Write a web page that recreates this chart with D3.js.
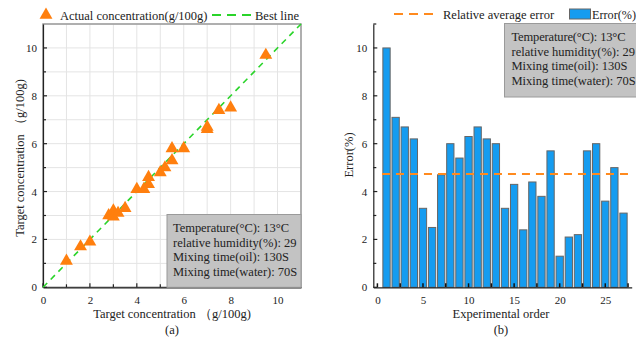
<!DOCTYPE html>
<html>
<head>
<meta charset="utf-8">
<script src="https://cdn.jsdelivr.net/npm/d3@7"></script>
<style>
  body { margin: 0; background: #fff; }
  svg { display: block; font-family: "Liberation Serif", "Times New Roman", serif; }
</style>
</head>
<body>
<svg id="chart" width="636" height="341"></svg>
<script>
// (a) target vs actual concentration
var targetConc = [1, 1.6, 2, 2.8, 3, 3, 3.2, 3.5, 4, 4.3, 4.5, 4.5, 5, 5.2, 5.5, 5.5, 6, 7, 7, 7.5, 8, 9.5];
var actualConc = [1.1, 1.7, 1.9, 3.0, 3.2, 2.95, 3.1, 3.3, 4.1, 4.1, 4.3, 4.6, 4.8, 5.0, 5.3, 5.8, 5.8, 6.6, 6.7, 7.4, 7.5, 9.7];

// (b) error per experiment
var errorPct = [10.0, 7.1, 6.7, 6.2, 3.3, 2.5, 4.7, 6.0, 5.4, 6.3, 6.7, 6.2, 6.0, 3.3, 4.3,
                2.4, 4.4, 3.8, 5.7, 1.3, 2.1, 2.2, 5.7, 6.0, 3.6, 5.0, 3.1];
var avgError = 4.73;

var infoLines = ['Temperature(°C): 13°C', 'relative humidity(%): 29',
                 'Mixing time(oil): 130S', 'Mixing time(water): 70S'];

var svg = d3.select('#chart');
var fs = 11;
var ink = '#222';

function infoBox(g, x, y, w, h, tx, ty, firstLen) {
  g.append('rect').attr('x', x).attr('y', y).attr('width', w).attr('height', h)
    .attr('fill', '#c3c3c3').attr('stroke', '#9a9a9a').attr('stroke-width', 1);
  infoLines.forEach(function(t, i) {
    var el = g.append('text').attr('x', tx).attr('y', ty + i * 14.7)
      .attr('font-size', 12.5).attr('fill', ink).text(t);
    // the degree signs come out wider in the source figure
    if (i === 0) el.attr('textLength', firstLen).attr('lengthAdjust', 'spacing');
  });
}

function styleAxis(sel) {
  sel.select('.domain').attr('stroke', ink).attr('stroke-width', 1.2);
  sel.selectAll('text').attr('font-size', fs).attr('font-family', 'Liberation Serif').attr('fill', ink);
}

// ---------- panel (a) ----------
(function() {
  var x = d3.scaleLinear().domain([0, 11]).range([43, 301]);
  var y = d3.scaleLinear().domain([0, 11]).range([287.3, 24]);
  var g = svg.append('g');

  var units = d3.range(0, 12);
  g.selectAll('line.gx').data(units).enter().append('line')
    .attr('x1', function(d) { return x(d); }).attr('x2', function(d) { return x(d); })
    .attr('y1', y(0)).attr('y2', y(11)).attr('stroke', '#e4e4e4');
  g.selectAll('line.gy').data(units).enter().append('line')
    .attr('y1', function(d) { return y(d); }).attr('y2', function(d) { return y(d); })
    .attr('x1', x(0)).attr('x2', x(11)).attr('stroke', '#e4e4e4');

  // frame
  g.append('rect').attr('x', x(0)).attr('y', y(11)).attr('width', x(11) - x(0))
    .attr('height', y(0) - y(11)).attr('fill', 'none').attr('stroke', '#999').attr('stroke-width', 1.5);

  var gx = g.append('g').attr('transform', 'translate(0,' + y(0) + ')')
    .call(d3.axisBottom(x).tickValues(d3.range(0, 11, 2)).tickSize(0).tickPadding(9));
  styleAxis(gx);
  g.selectAll('line.tx').data(d3.range(0, 11)).enter().append('line')
    .attr('x1', function(d) { return x(d); }).attr('x2', function(d) { return x(d); })
    .attr('y1', y(0)).attr('y2', function(d) { return y(0) - (d % 2 ? 3 : 4); })
    .attr('stroke', ink).attr('stroke-width', 1.2);

  var gy = g.append('g').attr('transform', 'translate(' + x(0) + ',0)')
    .call(d3.axisLeft(y).tickValues(d3.range(0, 11, 2)).tickSize(0).tickPadding(6));
  styleAxis(gy);
  g.selectAll('line.ty').data(d3.range(0, 11)).enter().append('line')
    .attr('y1', function(d) { return y(d); }).attr('y2', function(d) { return y(d); })
    .attr('x1', x(0)).attr('x2', function(d) { return x(0) + (d % 2 ? 3 : 4); })
    .attr('stroke', ink).attr('stroke-width', 1.2);

  // best line
  g.append('line').attr('x1', x(0)).attr('y1', y(0)).attr('x2', x(11)).attr('y2', y(11))
    .attr('stroke', '#2ad42a').attr('stroke-width', 1.6).attr('stroke-dasharray', '6,5');

  var tri = d3.symbol().type(d3.symbolTriangle).size(72);
  g.selectAll('path.pt').data(targetConc).enter().append('path')
    .attr('d', tri)
    .attr('transform', function(d, i) { return 'translate(' + x(d) + ',' + y(actualConc[i]) + ')'; })
    .attr('fill', '#ff7f0e');

  infoBox(g, 167, 214.5, x(11) - 167, y(0) - 214.5, 173, 232, 116);

  // legend
  g.append('path').attr('d', tri).attr('transform', 'translate(46,15)').attr('fill', '#ff7f0e');
  g.append('text').attr('x', 60).attr('y', 19.5).attr('font-size', 12.5).attr('fill', ink)
    .text('Actual concentration(g/100g)');
  g.append('line').attr('x1', 212).attr('x2', 251).attr('y1', 15).attr('y2', 15)
    .attr('stroke', '#2ad42a').attr('stroke-width', 1.8).attr('stroke-dasharray', '9,6');
  g.append('text').attr('x', 255).attr('y', 19.5).attr('font-size', 12.5).attr('fill', ink)
    .text('Best line');

  g.append('text').attr('x', 172).attr('y', 318).attr('text-anchor', 'middle')
    .attr('font-size', 12.5).attr('fill', ink).text('Target concentration （g/100g)');
  g.append('text').attr('x', 172).attr('y', 334).attr('text-anchor', 'middle')
    .attr('font-size', 12.5).attr('fill', ink).text('(a)');
  g.append('text').attr('transform', 'translate(24,158) rotate(-90)').attr('text-anchor', 'middle')
    .attr('font-size', 12.5).attr('fill', ink).text('Target concentration （g/100g)');
})();

// ---------- panel (b) ----------
(function() {
  var x = d3.scaleLinear().domain([-0.45, 27.9]).range([373.3, 631.7]);
  var y = d3.scaleLinear().domain([0, 11]).range([287.3, 24]);
  var g = svg.append('g');
  var bw = x(0.8) - x(0);

  g.selectAll('rect.bar').data(errorPct).enter().append('rect')
    .attr('x', function(d, i) { return x(i + 1) - bw / 2; })
    .attr('y', function(d) { return y(d); })
    .attr('width', bw)
    .attr('height', function(d) { return y(0) - y(d); })
    .attr('fill', '#159cf0').attr('stroke', '#666').attr('stroke-width', 1);

  g.append('line').attr('x1', x(0.5)).attr('x2', x(28)).attr('y1', y(avgError)).attr('y2', y(avgError))
    .attr('stroke', '#ff8a1e').attr('stroke-width', 2).attr('stroke-dasharray', '8,6');

  var gx = g.append('g').attr('transform', 'translate(0,' + y(0) + ')')
    .call(d3.axisBottom(x).tickValues(d3.range(0, 26, 5)).tickSize(0).tickPadding(9));
  styleAxis(gx);
  g.selectAll('line.tx').data(d3.range(0, 28, 2.5)).enter().append('line')
    .attr('x1', function(d) { return x(d); }).attr('x2', function(d) { return x(d); })
    .attr('y1', y(0)).attr('y2', y(0) - 4)
    .attr('stroke', '#111').attr('stroke-width', 1.5);

  var gy = g.append('g').attr('transform', 'translate(' + x.range()[0] + ',0)')
    .call(d3.axisLeft(y).tickValues(d3.range(0, 11, 2)).tickSize(0).tickPadding(6));
  styleAxis(gy);
  g.selectAll('line.ty').data(d3.range(0, 12)).enter().append('line')
    .attr('y1', function(d) { return y(d); }).attr('y2', function(d) { return y(d); })
    .attr('x1', x.range()[0]).attr('x2', function(d) { return x.range()[0] + (d % 2 ? 3 : 4); })
    .attr('stroke', ink).attr('stroke-width', 1.2);

  infoBox(g, 504.5, 23.5, 140, 73.5, 511.5, 41, 114);

  // legend
  g.append('line').attr('x1', 394).attr('x2', 436).attr('y1', 14).attr('y2', 14)
    .attr('stroke', '#ff8a1e').attr('stroke-width', 2).attr('stroke-dasharray', '9,6');
  g.append('text').attr('x', 443).attr('y', 19).attr('font-size', 12.5).attr('fill', ink)
    .text('Relative average error');
  g.append('rect').attr('x', 569.5).attr('y', 9).attr('width', 21).attr('height', 10)
    .attr('fill', '#159cf0').attr('stroke', '#666');
  g.append('text').attr('x', 592).attr('y', 19).attr('font-size', 12.2).attr('fill', ink)
    .text('Error(%)');

  g.append('text').attr('x', 501).attr('y', 318).attr('text-anchor', 'middle')
    .attr('font-size', 12.5).attr('fill', ink).text('Experimental order');
  g.append('text').attr('x', 501).attr('y', 334).attr('text-anchor', 'middle')
    .attr('font-size', 12.5).attr('fill', ink).text('(b)');
  g.append('text').attr('transform', 'translate(353,155) rotate(-90)').attr('text-anchor', 'middle')
    .attr('font-size', 12.5).attr('fill', ink).text('Error(%)');
})();
</script>
</body>
</html>
